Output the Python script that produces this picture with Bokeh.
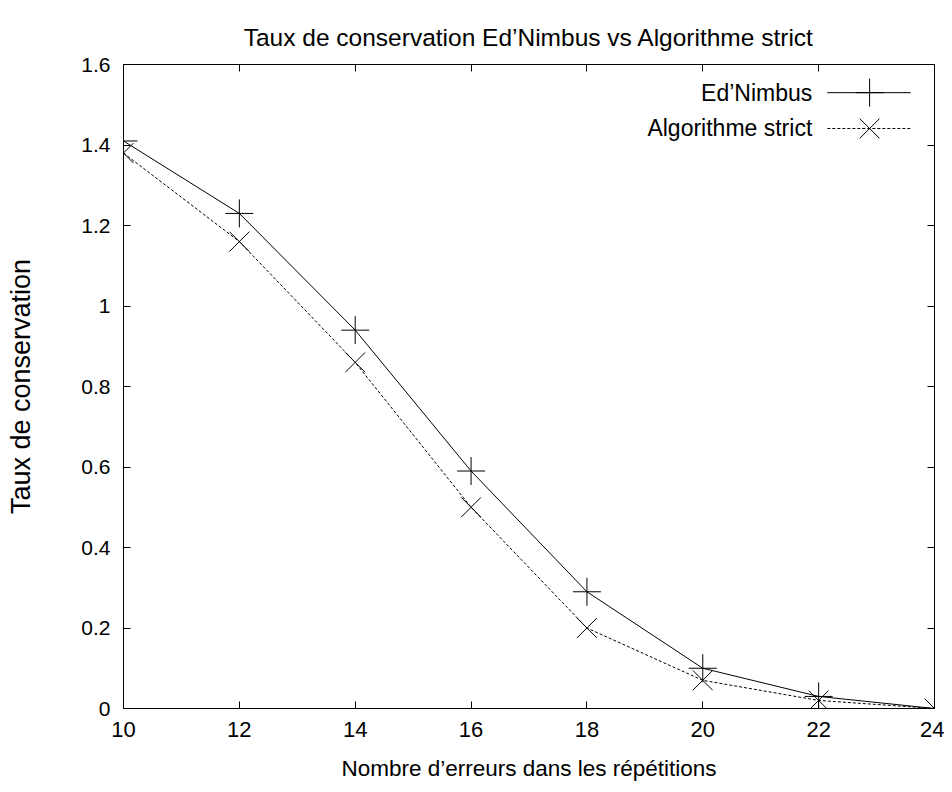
from bokeh.plotting import figure
from bokeh.models import Range1d, LinearAxis, FixedTicker, Label, Title
from bokeh.embed import file_html
from bokeh.resources import INLINE

# Data
errors = [10, 12, 14, 16, 18, 20, 22, 24]
ednimbus = [1.41, 1.23, 0.94, 0.59, 0.29, 0.10, 0.03, 0.0]
strict = [1.38, 1.16, 0.86, 0.50, 0.20, 0.07, 0.02, 0.0]
x_ticks = [10, 12, 14, 16, 18, 20, 22, 24]
y_ticks = [0, 0.2, 0.4, 0.6, 0.8, 1.0, 1.2, 1.4, 1.6]
title_text = "Taux de conservation Ed\u2019Nimbus vs Algorithme strict"
x_label = "Nombre d\u2019erreurs dans les r\u00e9p\u00e9titions"
y_label = "Taux de conservation"
series_names = ["Ed\u2019Nimbus", "Algorithme strict"]

FONT = "Liberation Sans"

p = figure(width=944, height=784, output_backend="svg", toolbar_location=None,
           x_range=Range1d(10, 24), y_range=Range1d(0, 1.6),
           min_border_left=123, min_border_right=10, min_border_top=64, min_border_bottom=76,
           x_axis_type=None, y_axis_type=None)
p.grid.visible = False
p.outline_line_color = "black"
p.outline_line_width = 1
p.background_fill_color = "white"
p.border_fill_color = "white"

def style_axis(ax, tick_size=None, label_size=None):
    ax.axis_line_color = "black"
    ax.major_tick_line_color = "black"
    ax.major_tick_in = 7
    ax.major_tick_out = 0
    ax.minor_tick_line_color = None
    ax.major_label_text_font = FONT
    ax.major_label_text_color = "black"
    ax.axis_label_text_font = FONT
    ax.axis_label_text_font_style = "normal"
    ax.axis_label_text_color = "black"
    if tick_size:
        ax.major_label_text_font_size = tick_size
        ax.axis_label_text_font_size = label_size
    else:
        ax.major_label_text_font_size = "0px"
        ax.major_label_standoff = 0

xb = LinearAxis(ticker=FixedTicker(ticks=x_ticks), axis_label=x_label)
style_axis(xb, "22px", "22.5px")
xb.major_label_standoff = 13
xb.axis_label_standoff = 16
p.add_layout(xb, "below")

yl = LinearAxis(ticker=FixedTicker(ticks=y_ticks), axis_label=y_label)
style_axis(yl, "21px", "27px")
yl.major_label_standoff = 13
yl.axis_label_standoff = 42
yl.major_label_overrides = {1.0: "1", 0: "0"}
p.add_layout(yl, "left")

xa = LinearAxis(ticker=FixedTicker(ticks=x_ticks))
style_axis(xa)
p.add_layout(xa, "above")
yr = LinearAxis(ticker=FixedTicker(ticks=y_ticks))
style_axis(yr)
p.add_layout(yr, "right")

t = Title(text=title_text, align="center", offset=18, text_font=FONT,
          text_font_size="24.5px", text_font_style="normal", text_color="black", standoff=27)
p.add_layout(t, "above")

# Series
p.line(errors, ednimbus, line_color="black", line_width=1)
p.scatter(errors, ednimbus, marker="cross", size=28, line_color="black", line_width=1)
p.line(errors, strict, line_color="black", line_width=1, line_dash="3 2")
p.scatter(errors, strict, marker="x", size=28, line_color="black", line_width=1)

# Legend (gnuplot style: label left of sample)
leg_x_text = 21.89
leg_x0, leg_x1, leg_xm = 22.15, 23.59, 22.88
leg_y = [1.530, 1.441]
markers = ["cross", "x"]
dashes = ["solid", "3 2"]
for name, yy, mk, dash in zip(series_names, leg_y, markers, dashes):
    p.add_layout(Label(x=leg_x_text, y=yy, text=name, text_align="right", text_baseline="middle",
                       text_font=FONT, text_font_size="23px", text_color="black"))
    p.line([leg_x0, leg_x1], [yy, yy], line_color="black", line_width=1, line_dash=dash)
    p.scatter([leg_xm], [yy], marker=mk, size=28, line_color="black", line_width=1)

open("out.html", "w").write(file_html(p, INLINE))
